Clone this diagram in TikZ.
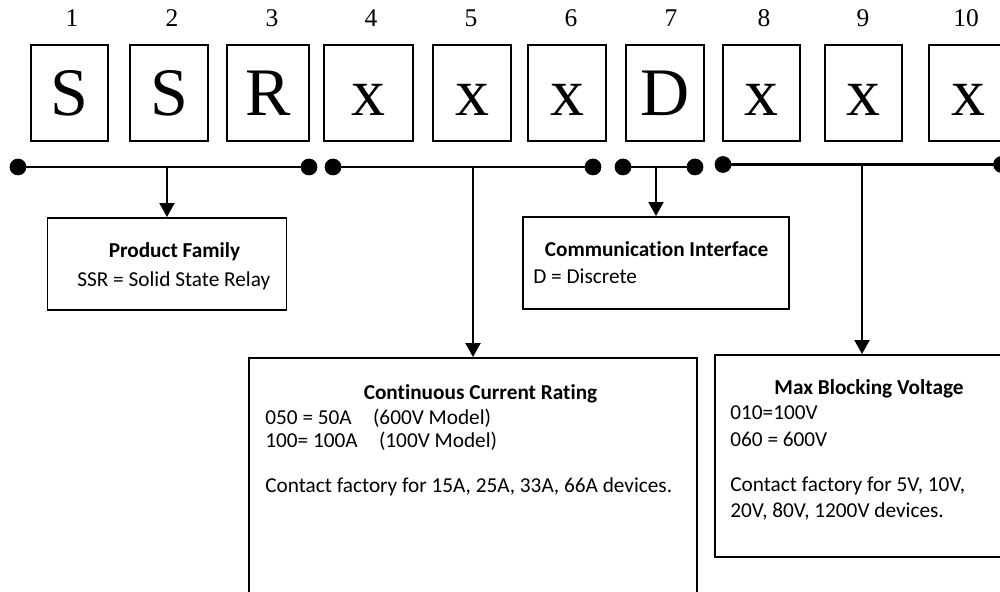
\documentclass[tikz,border=0pt]{standalone}
\usepackage{fontspec}
\setmainfont[Ligatures=NoCommon]{Carlito}
\newfontfamily\codefont{Liberation Serif}
\usetikzlibrary{arrows.meta}

\begin{document}
\begin{tikzpicture}[
  letterbox/.style={draw, line width=1.1pt, minimum height=1.92cm, inner sep=0pt,
    font=\codefont\fontsize{38.7}{40}\selectfont, text height=25.6pt, text depth=0pt},
  posnum/.style={font=\codefont\fontsize{14.5}{16}\selectfont},
  infobox/.style={draw, line width=1.1pt, inner sep=0pt},
  bus/.style={line width=1.4pt},
  drop/.style={line width=1.2pt, -{Triangle[width=3mm,length=2.8mm]}},
  head/.style={font=\fontsize{12.1}{13}\selectfont\bfseries, inner sep=0pt, anchor=base},
  body/.style={font=\fontsize{12.1}{13}\selectfont, inner sep=0pt, anchor=base west}
]
  \clip (0,0) rectangle (20,11.84);
  \foreach \n/\x/\w/\lx/\c in {1/1.39/1.54/1.44/S, 2/3.38/1.56/3.44/S,
      3/5.36/1.64/5.44/R, 4/7.37/1.78/7.42/x, 5/9.44/1.56/9.42/x,
      6/11.34/1.56/11.42/x, 7/13.30/1.56/13.42/D, 8/15.23/1.54/15.28/x,
      9/17.27/1.54/17.26/x, 10/19.36/1.56/19.32/x}{
    \node[letterbox, minimum width=\w cm] (b\n) at (\x,9.98) {\c};
    \node[posnum] (n\n) at (\lx,11.47) {\n};
  }

  \coordinate (fam1) at (0.36,8.5);
  \coordinate (fam2) at (6.18,8.5);
  \coordinate (cur1) at (6.66,8.5);
  \coordinate (cur2) at (11.86,8.5);
  \coordinate (com1) at (12.46,8.5);
  \coordinate (com2) at (13.9,8.5);
  \coordinate (vol1) at (14.46,8.55);
  \coordinate (vol2) at (20.03,8.55);
  \draw[bus] (fam1) -- (fam2);
  \draw[bus] (cur1) -- (cur2);
  \draw[bus] (com1) -- (com2);
  \draw[bus] (vol1) -- (vol2);
  \foreach \p in {fam1,fam2,cur1,cur2,com1,com2,vol1,vol2}
    \filldraw (\p) circle (0.16);

  \node[infobox, minimum width=4.78cm, minimum height=1.84cm] (fam) at (3.34,6.56) {};
  \node[infobox, minimum width=5.32cm, minimum height=1.84cm] (com) at (13.12,6.58) {};
  \node[infobox, minimum width=8.96cm, minimum height=4.98cm] (cur) at (9.46,2.19) {};
  \node[infobox, minimum width=5.88cm, minimum height=4.04cm] (vol) at (17.24,2.72) {};

  \draw[drop] (fam.north |- fam1) -- (fam.north);
  \draw[drop] (cur.north |- cur1) -- (cur.north);
  \draw[drop] (com.north |- com1) -- (com.north);
  \draw[drop] (vol.north |- vol1) -- (vol.north);

  \node[head] (famhead) at (3.49,6.68) {Product Family};
  \node[body] (fam1txt) at (1.54,6.10) {SSR = Solid State Relay};

  \node[head] (comhead) at (13.13,6.70) {Communication Interface};
  \node[body] (com1txt) at (10.66,6.16) {D = Discrete};

  \node[head] (curhead) at (9.61,3.84) {Continuous Current Rating};
  \node[body] (cur1txt) at (5.30,3.34) {050 = 50A\quad (600V Model)};
  \node[body] (cur2txt) at (5.30,2.88) {100= 100A\quad (100V Model)};
  \node[body] (cur3txt) at (5.30,1.98) {Contact factory for 15A, 25A, 33A, 66A devices.};

  \node[head] (volhead) at (17.38,3.94) {Max Blocking Voltage};
  \node[body] (vol1txt) at (14.60,3.44) {010=100V};
  \node[body] (vol2txt) at (14.60,2.90) {060 = 600V};
  \node[body] (vol3txt) at (14.60,2.00) {Contact factory for 5V, 10V,};
  \node[body] (vol4txt) at (14.60,1.48) {20V, 80V, 1200V devices.};
\end{tikzpicture}
\end{document}
